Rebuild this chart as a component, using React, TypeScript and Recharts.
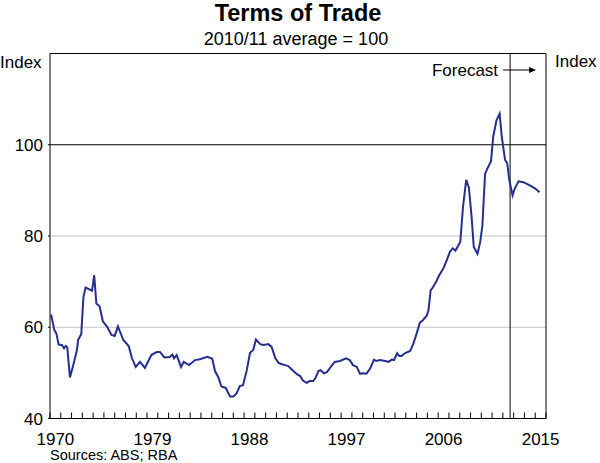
import { useEffect } from "react";
import {
  LineChart,
  Line,
  XAxis,
  YAxis,
  ReferenceLine,
} from "recharts";

// quarter-ish dates (decimal years) and the index
const dates = [
  1970.1, 1970.4, 1970.6, 1970.8, 1971.1, 1971.3, 1971.45, 1971.6, 1971.85, 1972.2,
  1972.5, 1972.6, 1972.9, 1973.1, 1973.3, 1973.9, 1974.1, 1974.3, 1974.6, 1974.9,
  1975.3, 1975.7, 1976.0, 1976.3, 1976.8, 1977.3, 1977.6, 1977.95, 1978.35, 1978.8,
  1979.4, 1979.9, 1980.2, 1980.6, 1981.1, 1981.35, 1981.5, 1981.75, 1982.15, 1982.4,
  1982.9, 1983.45, 1983.9, 1984.6, 1985.05, 1985.3, 1985.6, 1985.9, 1986.3, 1986.7,
  1987.0, 1987.3, 1987.6, 1987.9, 1988.25, 1988.55, 1988.85, 1989.1, 1989.5, 1989.8,
  1990.25, 1990.55, 1990.9, 1991.2, 1991.5, 1991.8, 1992.1, 1992.4, 1992.9, 1993.2,
  1993.45, 1993.8, 1994.1, 1994.4, 1994.6, 1994.9, 1995.1, 1995.4, 1995.7, 1996.1,
  1996.4, 1996.9, 1997.45, 1997.8, 1998.1, 1998.45, 1998.75, 1999.05, 1999.35, 1999.7,
  2000.05, 2000.25, 2000.6, 2001.1, 2001.4, 2001.7, 2001.9, 2002.2, 2002.4, 2002.6,
  2002.9, 2003.4, 2003.7, 2004.0, 2004.3, 2004.6, 2004.95, 2005.1, 2005.3, 2005.5,
  2005.8, 2006.1, 2006.5, 2006.8, 2007.1, 2007.35, 2007.6, 2008.05, 2008.3, 2008.6,
  2008.85, 2009.1, 2009.3, 2009.65, 2009.9, 2010.1, 2010.35, 2010.55, 2010.9, 2011.1,
  2011.4, 2011.7, 2011.9, 2012.2, 2012.4, 2012.6, 2012.9, 2013.1, 2013.45, 2013.9,
  2014.5, 2015.0, 2015.4,
];

const tradeIndex = [
  62.8, 59.4, 58.6, 56.2, 56.1, 55.4, 55.9, 55.6, 49.0, 52.1,
  55.0, 57.2, 58.5, 66.6, 68.7, 68.0, 71.4, 65.2, 64.6, 61.3,
  60.1, 58.3, 58.1, 60.2, 57.2, 55.9, 53.2, 51.3, 52.4, 51.1,
  53.9, 54.6, 54.6, 53.4, 53.5, 54.0, 53.2, 53.9, 51.3, 52.4,
  51.7, 52.8, 53.0, 53.5, 53.1, 50.4, 49.1, 47.0, 46.7, 44.8,
  44.8, 45.5, 47.1, 47.3, 50.6, 54.4, 55.0, 57.3, 56.3, 56.1,
  56.3, 55.7, 53.2, 52.2, 51.9, 51.7, 51.5, 50.8, 49.7, 49.3,
  48.3, 47.8, 48.2, 48.2, 48.8, 50.4, 50.6, 49.9, 50.2, 51.5,
  52.4, 52.6, 53.2, 52.8, 51.7, 51.3, 49.8, 49.9, 49.8, 51.0,
  52.9, 52.6, 52.8, 52.6, 52.4, 52.9, 52.8, 54.3, 53.7, 53.7,
  54.3, 54.8, 56.4, 58.6, 61.0, 61.6, 62.6, 63.7, 68.1, 68.7,
  69.9, 71.4, 73.0, 74.7, 76.6, 77.3, 76.8, 78.7, 86.3, 92.3,
  90.6, 84.2, 77.6, 76.1, 78.7, 82.3, 93.6, 94.7, 96.4, 101.7,
  105.3, 106.8, 101.7, 96.7, 96.0, 92.2, 88.9, 90.4, 92.0, 91.8,
  91.1, 90.4, 89.6,
];

const yearTicks = Array.from({ length: 47 }, (_, i) => 1970 + i);
const labelYears = [1970, 1979, 1988, 1997, 2006, 2015];
const yTicks = [40, 60, 80, 100];
const forecastStart = 2012.67;

const data = dates.map((d, i) => ({ year: d, value: tradeIndex[i] }));

const W = 600;
const H = 463;
const LEFT = 50;
const RIGHT = 54;
const HALF_YEAR = (W - LEFT - RIGHT) / (yearTicks.length - 1) / 2;
const FONT = "'Liberation Sans', Arial, sans-serif";

function YearTick(props: any) {
  const { x, y, payload } = props;
  const yr = payload.value;
  return (
    <g>
      <line x1={x} x2={x} y1={y} y2={y - 6} stroke="#000" strokeWidth={1} />
      {labelYears.includes(yr) && (
        <text x={x + HALF_YEAR} y={y + 26} textAnchor="middle" fontSize={17} fill="#000">
          {yr}
        </text>
      )}
    </g>
  );
}

function ForecastLabel(props: any) {
  const { x, y } = props.viewBox;
  const ay = y + 16.5;
  return (
    <g>
      <text x={x - 12} y={y + 22.5} textAnchor="end" fontSize={17} fill="#000">
        Forecast
      </text>
      <line x1={x - 7} x2={x + 21} y1={ay} y2={ay} stroke="#000" strokeWidth={1} />
      <polygon points={`${x + 26},${ay} ${x + 19},${ay - 3} ${x + 19},${ay + 3}`} fill="#000" />
    </g>
  );
}

export default function App() {
  useEffect(() => {
    document.body.style.margin = "0";
  }, []);

  return (
    <div style={{ position: "relative", width: W, height: H, fontFamily: FONT }}>
      <LineChart
        width={W}
        height={H}
        data={data}
        margin={{ top: 53.5, right: 0, bottom: 0, left: 0 }}
        style={{ fontFamily: FONT }}
      >
        <XAxis
          dataKey="year"
          type="number"
          domain={[1970, 2016]}
          ticks={yearTicks}
          interval={0}
          tick={<YearTick />}
          tickSize={0}
          tickMargin={0}
          tickLine={false}
          axisLine={{ stroke: "#000" }}
          height={44.5}
          xAxisId="x"
        />
        <YAxis
          yAxisId="left"
          domain={[40, 120]}
          ticks={yTicks}
          width={LEFT}
          axisLine={{ stroke: "#000" }}
          tickLine={{ stroke: "#000" }}
          tickSize={2}
          tickMargin={5}
          tick={{ fill: "#000", fontSize: 17 }}
        />
        <YAxis
          yAxisId="right"
          orientation="right"
          domain={[40, 120]}
          ticks={yTicks}
          width={RIGHT}
          axisLine={{ stroke: "#000" }}
          tickLine={{ stroke: "#000" }}
          tickSize={2}
          tickMargin={5}
          tick={{ fill: "#000", fontSize: 17 }}
        />
        <ReferenceLine yAxisId="left" xAxisId="x" y={60} stroke="#c4c4c4" strokeWidth={1} />
        <ReferenceLine yAxisId="left" xAxisId="x" y={80} stroke="#c4c4c4" strokeWidth={1} />
        <ReferenceLine yAxisId="left" xAxisId="x" y={100} stroke="#000" strokeWidth={1} />
        <ReferenceLine yAxisId="left" xAxisId="x" y={120} stroke="#000" strokeWidth={1} />
        <ReferenceLine
          yAxisId="left"
          xAxisId="x"
          x={forecastStart}
          stroke="#000"
          strokeWidth={1}
          label={<ForecastLabel />}
        />
        <Line
          yAxisId="left"
          xAxisId="x"
          type="linear"
          dataKey="value"
          stroke="#262f8e"
          strokeWidth={2}
          dot={false}
          isAnimationActive={false}
        />
      </LineChart>
      <svg
        width={W}
        height={H}
        style={{ position: "absolute", left: 0, top: 0, pointerEvents: "none", fontFamily: FONT }}
      >
        <text x={298} y={20.5} textAnchor="middle" fontSize={23.5} fontWeight="bold" fill="#000">
          Terms of Trade
        </text>
        <text x={296} y={45} textAnchor="middle" fontSize={18} fill="#000">
          2010/11 average = 100
        </text>
        <text x={0} y={68} fontSize={17} fill="#000">
          Index
        </text>
        <text x={555} y={67} fontSize={17} fill="#000">
          Index
        </text>
        <text x={50} y={460} fontSize={14.5} fill="#000">
          Sources: ABS; RBA
        </text>
      </svg>
    </div>
  );
}
